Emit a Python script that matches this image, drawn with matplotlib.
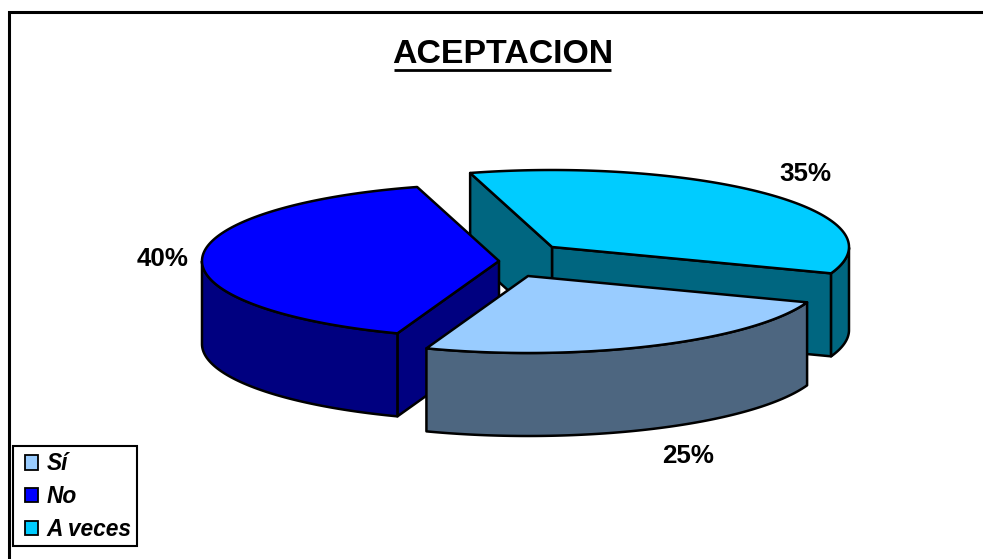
import numpy as np
import matplotlib
matplotlib.use("Agg")
import matplotlib.pyplot as plt
from matplotlib.patches import Polygon, Patch, Rectangle

# ---- data ----
categories = ["Sí", "No", "A veces"]
values = [25, 40, 35]

# ---- style and layout (pixels) ----
top_colors = ["#99CCFF", "#0000FF", "#00CCFF"]
side_colors = ["#4D6680", "#000080", "#006680"]
apexes = [(528, 276), (499, 261), (552, 247)]
label_pos = [(688, 456), (163, 259), (805, 174)]
RX, RY, DEPTH = 297, 77, 83
START = -20.0
DRAW_ORDER = [2, 1, 0]
LW = 1.8

plt.rcParams["font.family"] = ["Liberation Sans", "DejaVu Sans"]
fig = plt.figure(figsize=(9.83, 5.59), dpi=100, facecolor="white")
ax = fig.add_axes([0, 0, 1, 1])
ax.set_xlim(0, 983)
ax.set_ylim(559, 0)
ax.axis("off")

# wedge angles, running clockwise from START
fractions = np.array(values) / np.sum(values)
ends = START - 360 * np.cumsum(fractions)
starts = np.r_[START, ends[:-1]]


def rim(apex, t):
    t = np.radians(t)
    return np.c_[apex[0] + RX * np.cos(t), apex[1] - RY * np.sin(t)]


def face(points, color, z):
    ax.add_patch(Polygon(points, closed=True, facecolor=color, edgecolor="black",
                         linewidth=LW, joinstyle="round", zorder=z))


for z, i in enumerate(DRAW_ORDER):
    apex = np.array(apexes[i], dtype=float)
    t1, t0 = starts[i], ends[i]  # t0 < t1, counter-clockwise t0 -> t1
    drop = np.array([0, DEPTH])
    base = z * 10 + 1
    # radial faces that look toward the viewer
    for t, normal in ((t0, t0 - 90), (t1, t1 + 90)):
        if np.sin(np.radians(normal)) < 0:
            p = rim(apex, t)[0]
            face([apex, p, p + drop, apex + drop], side_colors[i], base)
    # outer wall: only the front half of the rim
    ts = np.linspace(t0, t1, 240)
    ts = ts[np.sin(np.radians(ts)) <= 0]
    if len(ts) > 1:
        arc = rim(apex, ts)
        face(np.vstack([arc, (arc + drop)[::-1]]), side_colors[i], base + 1)
    # top face
    arc = rim(apex, np.linspace(t0, t1, 240))
    face(np.vstack([apex, arc]), top_colors[i], base + 2)

# percentage labels
for v, (x, y) in zip(values, label_pos):
    ax.text(x, y, f"{v}%", ha="center", va="center", fontsize=18.7,
            fontweight="bold", color="black", zorder=50)

# title, underlined
ax.text(502.5, 54.5, "ACEPTACION", ha="center", va="center", fontsize=24.4,
        fontweight="bold", color="black", zorder=50)
ax.plot([394, 611], [70, 70], color="black", lw=2.0, solid_capstyle="butt", zorder=50)

# chart frame: top and left only
ax.plot([8.5, 8.5, 983], [559, 12, 12], color="black", lw=2.2,
        solid_joinstyle="miter", solid_capstyle="butt", zorder=40)

# legend: frame drawn separately so its padding can differ per side
ax.add_patch(Rectangle((12.5, 446), 124.5, 100, facecolor="white", edgecolor="black",
                       linewidth=1.5, zorder=55))
handles = [Patch(facecolor=c, edgecolor="black", linewidth=1.3) for c in top_colors]
leg = ax.legend(handles, categories, loc="upper left",
                bbox_to_anchor=(25, 452.5), bbox_transform=ax.transData,
                prop={"family": "Liberation Sans", "weight": "bold",
                      "style": "italic", "size": 16.4},
                frameon=False, borderpad=0, labelspacing=0.42, handlelength=0.58,
                handleheight=0.58, handletextpad=0.36, borderaxespad=0)
leg.set_zorder(60)

fig.savefig("out.png", dpi=100, facecolor="white")
